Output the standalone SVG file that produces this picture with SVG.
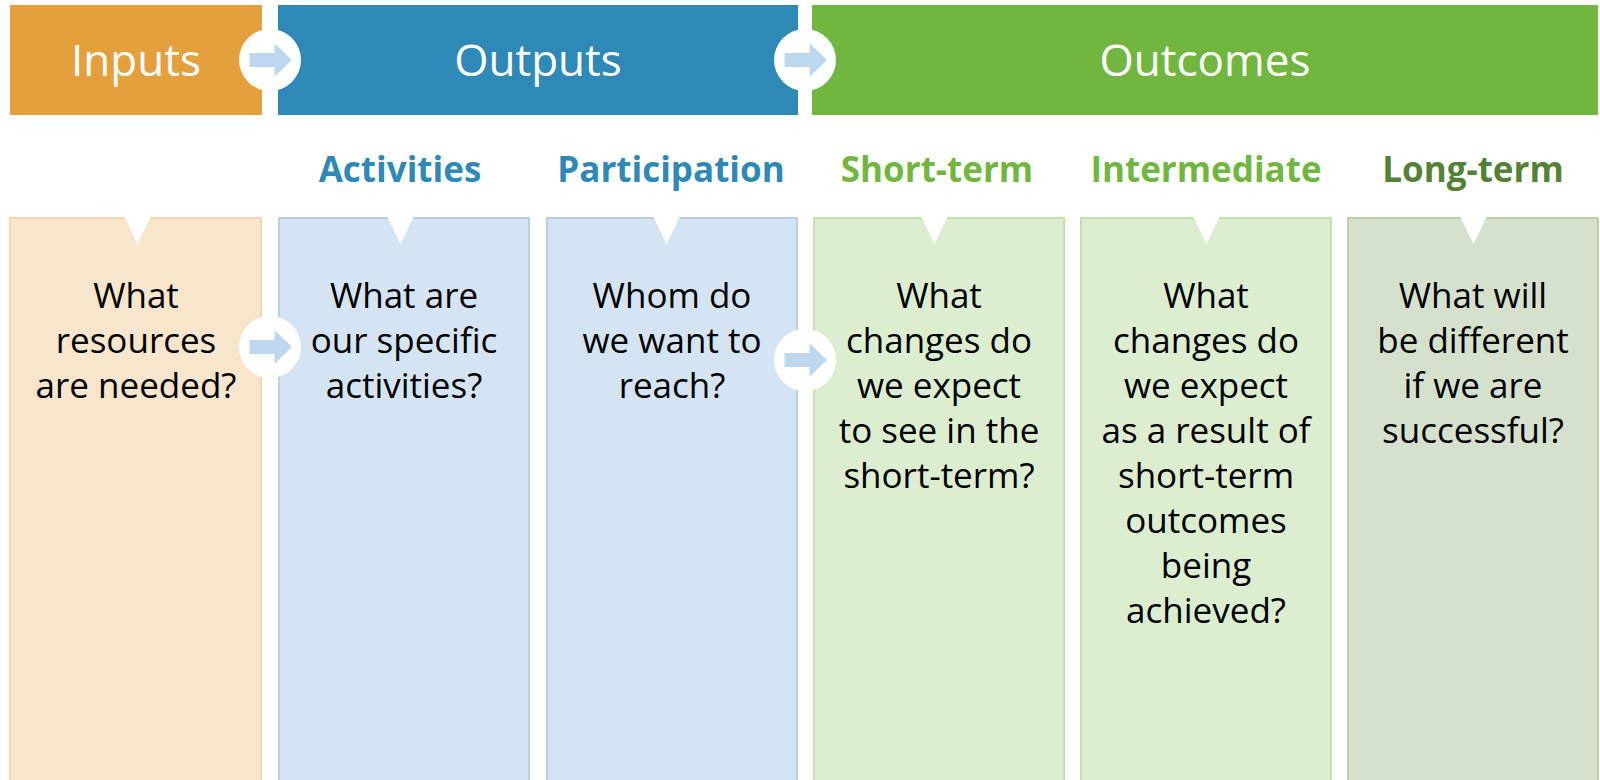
<svg xmlns="http://www.w3.org/2000/svg" width="1600" height="780" viewBox="0 0 1600 780">
  <defs>
    <style>
      .hdr { font-family: "Open Sans", "Liberation Sans", sans-serif; font-size: 44px; font-weight: 400; fill: #ffffff; text-anchor: middle; }
      .sub { font-family: "Open Sans", "Liberation Sans", sans-serif; font-size: 35px; font-weight: 700; text-anchor: middle; }
      .body { font-family: "Open Sans", "Liberation Sans", sans-serif; font-size: 35px; fill: #000000; text-anchor: middle; }
      .col { stroke-width: 2; }
      .orange { fill: #F7E5CC; stroke: #F2D5A8; }
      .blue { fill: #D5E4F3; stroke: #B8CEE6; }
      .green { fill: #DCEDD0; stroke: #C4E0AF; }
      .olive { fill: #D5E0CD; stroke: #BDD0AE; }
      .notch { fill: #ffffff; }
      .hole { fill: #ffffff; }
      .arrow { fill: #BDD7EE; }
    </style>
    <g id="flow-arrow">
      <circle class="hole" cx="0" cy="0" r="31"/>
      <polygon class="arrow" points="-20.5,-7 4.5,-7 4.5,-17 22,0 4.5,17 4.5,7 -20.5,7"/>
    </g>
  </defs>

  <rect width="1600" height="780" fill="#ffffff"/>

  <!-- stage banners -->
  <g id="inputs-header">
    <rect x="10" y="5" width="252" height="110" fill="#E3A03C"/>
    <text class="hdr" x="136" y="76">Inputs</text>
  </g>
  <g id="outputs-header">
    <rect x="278" y="5" width="520" height="110" fill="#2E89B6"/>
    <text class="hdr" x="538" y="76">Outputs</text>
  </g>
  <g id="outcomes-header">
    <rect x="812" y="5" width="786" height="110" fill="#71B73F"/>
    <text class="hdr" x="1205" y="76">Outcomes</text>
  </g>

  <!-- column sub-headings -->
  <g id="subheadings">
    <text class="sub" x="400" y="182" fill="#2E89B6">Activities</text>
    <text class="sub" x="671" y="182" fill="#2E89B6">Participation</text>
    <text class="sub" x="937" y="182" fill="#71B73F">Short-term</text>
    <text class="sub" x="1206" y="182" fill="#71B73F">Intermediate</text>
    <text class="sub" x="1473" y="182" fill="#538135">Long-term</text>
  </g>

  <!-- question columns -->
  <g id="inputs-column">
    <rect class="col orange" x="10" y="218" width="251" height="565"/>
    <polygon class="notch" points="124,216 151,216 137.5,244"/>
    <text class="body" x="136" y="308">What</text>
    <text class="body" x="136" y="353">resources</text>
    <text class="body" x="136" y="398">are needed?</text>
  </g>
  <g id="activities-column">
    <rect class="col blue" x="279" y="218" width="250" height="565"/>
    <polygon class="notch" points="387,216 414,216 400.5,244"/>
    <text class="body" x="404" y="308">What are</text>
    <text class="body" x="404" y="353">our specific</text>
    <text class="body" x="404" y="398">activities?</text>
  </g>
  <g id="participation-column">
    <rect class="col blue" x="547" y="218" width="250" height="565"/>
    <polygon class="notch" points="653,216 680,216 666.5,244"/>
    <text class="body" x="672" y="308">Whom do</text>
    <text class="body" x="672" y="353">we want to</text>
    <text class="body" x="672" y="398">reach?</text>
  </g>
  <g id="short-term-column">
    <rect class="col green" x="814" y="218" width="250" height="565"/>
    <polygon class="notch" points="921,216 948,216 934.5,244"/>
    <text class="body" x="939" y="308">What</text>
    <text class="body" x="939" y="353">changes do</text>
    <text class="body" x="939" y="398">we expect</text>
    <text class="body" x="939" y="443">to see in the</text>
    <text class="body" x="939" y="488">short-term?</text>
  </g>
  <g id="intermediate-column">
    <rect class="col green" x="1081" y="218" width="250" height="565"/>
    <polygon class="notch" points="1193,216 1220,216 1206.5,244"/>
    <text class="body" x="1206" y="308">What</text>
    <text class="body" x="1206" y="353">changes do</text>
    <text class="body" x="1206" y="398">we expect</text>
    <text class="body" x="1206" y="443">as a result of</text>
    <text class="body" x="1206" y="488">short-term</text>
    <text class="body" x="1206" y="533">outcomes</text>
    <text class="body" x="1206" y="578">being</text>
    <text class="body" x="1206" y="623">achieved?</text>
  </g>
  <g id="long-term-column">
    <rect class="col olive" x="1348" y="218" width="250" height="565"/>
    <polygon class="notch" points="1460,216 1487,216 1473.5,244"/>
    <text class="body" x="1473" y="308">What will</text>
    <text class="body" x="1473" y="353">be different</text>
    <text class="body" x="1473" y="398">if we are</text>
    <text class="body" x="1473" y="443">successful?</text>
  </g>

  <!-- flow connectors between stages -->
  <g id="connectors">
    <use href="#flow-arrow" x="270" y="60"/>
    <use href="#flow-arrow" x="805" y="60"/>
    <use href="#flow-arrow" x="270" y="347"/>
    <use href="#flow-arrow" x="805" y="360"/>
  </g>
</svg>
